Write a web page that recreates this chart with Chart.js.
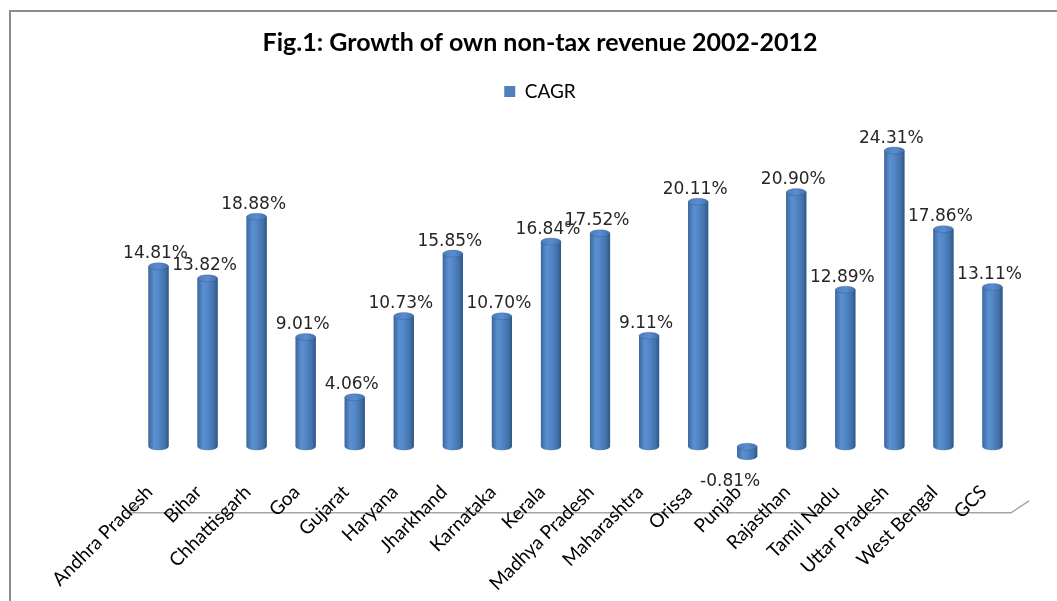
<!DOCTYPE html>
<html>
<head>
<meta charset="utf-8">
<script src="https://cdn.jsdelivr.net/npm/chart.js@4.4.0/dist/chart.umd.min.js"></script>
<style>
  body { margin: 0; background: #fff; }
  #wrap { width: 1057px; height: 601px; }
</style>
</head>
<body>
<div id="wrap"><canvas id="myChart" width="1057" height="601"></canvas></div>
<script>
const states = ["Andhra Pradesh", "Bihar", "Chhattisgarh", "Goa", "Gujarat", "Haryana",
  "Jharkhand", "Karnataka", "Kerala", "Madhya Pradesh", "Maharashtra", "Orissa",
  "Punjab", "Rajasthan", "Tamil Nadu", "Uttar Pradesh", "West Bengal", "GCS"];
const cagr = [14.81, 13.82, 18.88, 9.01, 4.06, 10.73, 15.85, 10.70, 16.84, 17.52,
  9.11, 20.11, -0.81, 20.90, 12.89, 24.31, 17.86, 13.11];

// outer frame and the front edge of the 3d floor
const frame = {
  id: 'frame',
  beforeInit(chart) {
    // extra room between legend and plot
    const fit = chart.legend.fit;
    chart.legend.fit = function () {
      fit.call(this);
      this.height += 19;
    };
  },
  afterLayout(chart) {
    // push category labels a little further below the plot
    const x = chart.scales.x;
    x.top += 10;
    x.bottom += 10;
  },
  beforeDraw(chart) {
    const ctx = chart.ctx, a = chart.chartArea;
    ctx.save();
    ctx.strokeStyle = '#8c8c8c';
    ctx.lineWidth = 2;
    ctx.beginPath();
    ctx.moveTo(10, chart.height);
    ctx.lineTo(10, 11);
    ctx.lineTo(chart.width, 11);
    ctx.stroke();

    const fy = a.bottom + 54, fl = a.left - 7, fr = a.right - 6;
    ctx.strokeStyle = '#a6a6a6';
    ctx.lineWidth = 1.5;
    ctx.beginPath();
    ctx.moveTo(fl + 16, fy - 10);
    ctx.lineTo(fl, fy);
    ctx.lineTo(fr, fy);
    ctx.lineTo(fr + 18, fy - 12);
    ctx.stroke();
    ctx.restore();
  }
};

// cylinder shading on top of each bar, plus the value labels
const cylinders = {
  id: 'cylinders',
  afterDatasetsDraw(chart) {
    const ctx = chart.ctx;
    const meta = chart.getDatasetMeta(0);
    meta.data.forEach((bar, i) => {
      const p = bar.getProps(['x', 'y', 'base', 'width'], true);
      const half = p.width / 2;
      const left = p.x - half, right = p.x + half;
      const top = Math.min(p.y, p.base), bottom = Math.max(p.y, p.base);
      const ry = 3.5;

      const g = ctx.createLinearGradient(left, 0, right, 0);
      g.addColorStop(0, '#3b679c');
      g.addColorStop(0.28, '#5b8fd0');
      g.addColorStop(0.5, '#5287c8');
      g.addColorStop(0.8, '#4472ab');
      g.addColorStop(1, '#2f5785');

      ctx.save();
      ctx.fillStyle = g;
      ctx.beginPath();
      ctx.moveTo(left, top);
      ctx.lineTo(left, bottom);
      ctx.ellipse(p.x, bottom, half, ry, 0, Math.PI, 0, true);
      ctx.lineTo(right, top);
      ctx.closePath();
      ctx.fill();

      const cap = ctx.createLinearGradient(left, 0, right, 0);
      cap.addColorStop(0, '#4a7cbf');
      cap.addColorStop(0.5, '#5a8dd0');
      cap.addColorStop(1, '#406fae');
      ctx.fillStyle = cap;
      ctx.beginPath();
      ctx.ellipse(p.x, top, half, ry, 0, 0, Math.PI * 2);
      ctx.fill();
      ctx.strokeStyle = 'rgba(40,70,110,0.35)';
      ctx.lineWidth = 0.8;
      ctx.stroke();

      const v = cagr[i];
      ctx.fillStyle = '#262626';
      ctx.font = '17px "DejaVu Sans"';
      ctx.textAlign = 'center';
      ctx.textBaseline = 'alphabetic';
      if (v >= 0) {
        ctx.fillText(v.toFixed(2) + '%', p.x - 3, top - 8);
      } else {
        ctx.fillText(v.toFixed(2) + '%', p.x - 17, bottom + 29);
      }
      ctx.restore();
    });
  }
};

new Chart('myChart', {
  type: 'bar',
  data: {
    labels: states,
    datasets: [{
      label: 'CAGR',
      data: cagr,
      backgroundColor: '#4f81bd',
      borderWidth: 0,
      barPercentage: 0.82,
      categoryPercentage: 0.5
    }]
  },
  options: {
    responsive: false,
    animation: false,
    layout: { padding: { left: 63, right: 40, top: 0, bottom: 4 } },
    plugins: {
      title: {
        display: true,
        text: 'Fig.1: Growth of own non-tax revenue 2002-2012',
        color: '#000',
        font: { family: 'Lato', size: 25, weight: 'bold' },
        padding: { top: 28, bottom: 18 }
      },
      legend: {
        display: true,
        position: 'top',
        labels: {
          color: '#000',
          font: { family: 'Lato', size: 19 },
          boxWidth: 11,
          boxHeight: 11,
          padding: 6
        }
      },
      tooltip: { enabled: false }
    },
    scales: {
      x: {
        grid: { display: false, drawTicks: false },
        border: { display: false },
        ticks: {
          color: '#000',
          font: { family: 'Lato', size: 19 },
          maxRotation: 45,
          minRotation: 45,
          padding: 12,
          labelOffset: -9,
          autoSkip: false
        }
      },
      y: {
        min: -1,
        max: 26,
        grid: { display: false },
        border: { display: false },
        ticks: { display: false },
        afterFit(scale) { scale.width = 71; }
      }
    }
  },
  plugins: [frame, cylinders]
});
</script>
</body>
</html>
